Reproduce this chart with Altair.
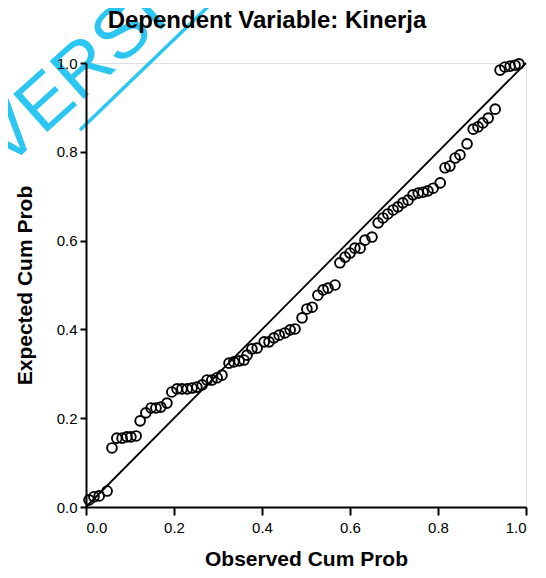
import altair as alt
import pandas as pd

observed = [0.007, 0.018, 0.030, 0.048, 0.059, 0.070, 0.082, 0.093, 0.102, 0.114,
            0.123, 0.136, 0.148, 0.159, 0.170, 0.184, 0.195, 0.207, 0.218, 0.230,
            0.241, 0.252, 0.264, 0.275, 0.286, 0.298, 0.309, 0.325, 0.336, 0.348,
            0.359, 0.366, 0.377, 0.389, 0.405, 0.416, 0.427, 0.439, 0.452, 0.464,
            0.475, 0.491, 0.502, 0.514, 0.527, 0.539, 0.550, 0.566, 0.577, 0.589,
            0.600, 0.611, 0.623, 0.634, 0.650, 0.664, 0.675, 0.686, 0.698, 0.709,
            0.720, 0.732, 0.743, 0.755, 0.766, 0.777, 0.789, 0.805, 0.816, 0.827,
            0.839, 0.850, 0.866, 0.880, 0.891, 0.902, 0.914, 0.930, 0.941, 0.952,
            0.964, 0.975, 0.984]
expected = [0.016, 0.023, 0.025, 0.036, 0.133, 0.155, 0.155, 0.158, 0.158, 0.160,
            0.194, 0.212, 0.223, 0.223, 0.225, 0.234, 0.259, 0.266, 0.266, 0.266,
            0.268, 0.270, 0.275, 0.286, 0.286, 0.291, 0.297, 0.324, 0.327, 0.329,
            0.331, 0.342, 0.356, 0.358, 0.372, 0.372, 0.381, 0.387, 0.392, 0.399,
            0.401, 0.426, 0.446, 0.450, 0.477, 0.489, 0.493, 0.500, 0.550, 0.563,
            0.572, 0.583, 0.583, 0.601, 0.608, 0.640, 0.651, 0.660, 0.669, 0.676,
            0.685, 0.691, 0.703, 0.707, 0.709, 0.712, 0.718, 0.730, 0.764, 0.768,
            0.786, 0.793, 0.818, 0.851, 0.856, 0.865, 0.876, 0.896, 0.984, 0.991,
            0.993, 0.995, 0.998]

diag_x = [0.0, 1.0]
diag_y = [0.0, 1.0]
tick_values = [0.0, 0.2, 0.4, 0.6, 0.8, 1.0]
title_text = ["Dependent Variable: Kinerja"]
watermark = ["VERSITAS"]

pts = pd.DataFrame({"obs": observed, "exp": expected})
diag = pd.DataFrame({"obs": diag_x, "exp": diag_y})
wm = pd.DataFrame({"t": watermark})
ttl = pd.DataFrame({"t": title_text})

FONT = "Liberation Sans"
WM_COLOR = "#2cc6f2"

xscale = alt.Scale(domain=[0, 1], nice=False, zero=False)
yscale = alt.Scale(domain=[0, 1], nice=False, zero=False)

xaxis = alt.Axis(
    title="Observed Cum Prob", values=tick_values, format=".1f", zindex=1,
    labelFontSize=15, labelFont=FONT, labelColor="black", labelPadding=5,
    tickSize=8, tickColor="black", tickWidth=2,
    domainColor="black", domainWidth=2, grid=False,
    titleFont=FONT, titleFontSize=21, titleFontWeight="bold", titleColor="black",
    titleX=220, titleY=58, titleBaseline="alphabetic", titleAlign="center",
)
yaxis = alt.Axis(
    title="Expected Cum Prob", values=tick_values, format=".1f", zindex=1,
    labelFontSize=15, labelFont=FONT, labelColor="black", labelPadding=3,
    tickSize=6, tickColor="black", tickWidth=2,
    domainColor="black", domainWidth=2, grid=False,
    titleFont=FONT, titleFontSize=21, titleFontWeight="bold", titleColor="black",
    titleX=-61, titleY=222, titleAngle=270, titleBaseline="middle", titleAlign="center",
)

wmark = alt.Chart(wm).mark_text(
    font=FONT, fontSize=74, color=WM_COLOR, angle=318, align="left",
    baseline="alphabetic",
).encode(
    text="t:N",
    x=alt.value(-80),
    y=alt.value(106),
)

wline = alt.Chart(wm).mark_rule(color=WM_COLOR, strokeWidth=3.5).encode(
    x=alt.value(-6), y=alt.value(67), x2=alt.value(129), y2=alt.value(-63),
)

points = alt.Chart(pts).mark_point(
    shape="circle", filled=False, color="black", strokeWidth=1.9, size=95, opacity=1
).encode(
    x=alt.X("obs:Q", scale=xscale, axis=xaxis),
    y=alt.Y("exp:Q", scale=yscale, axis=yaxis),
)

line = alt.Chart(diag).mark_line(color="black", strokeWidth=1.8).encode(
    x=alt.X("obs:Q", scale=xscale),
    y=alt.Y("exp:Q", scale=yscale),
)

title_mark = alt.Chart(ttl).mark_text(
    font=FONT, fontSize=24, fontWeight="bold", color="black",
    align="center", baseline="alphabetic",
).encode(text="t:N", x=alt.value(181), y=alt.value(-35))

chart = alt.layer(wmark, wline, line, points, title_mark).properties(
    width=440, height=444,
    autosize=alt.AutoSizeParams(type="none"),
    padding={"left": 78, "top": 55, "right": 12, "bottom": 63},
).configure_view(stroke="black", strokeWidth=2).configure(background="white")

chart.save("out.html", embed_options={"renderer": "svg", "actions": False})
